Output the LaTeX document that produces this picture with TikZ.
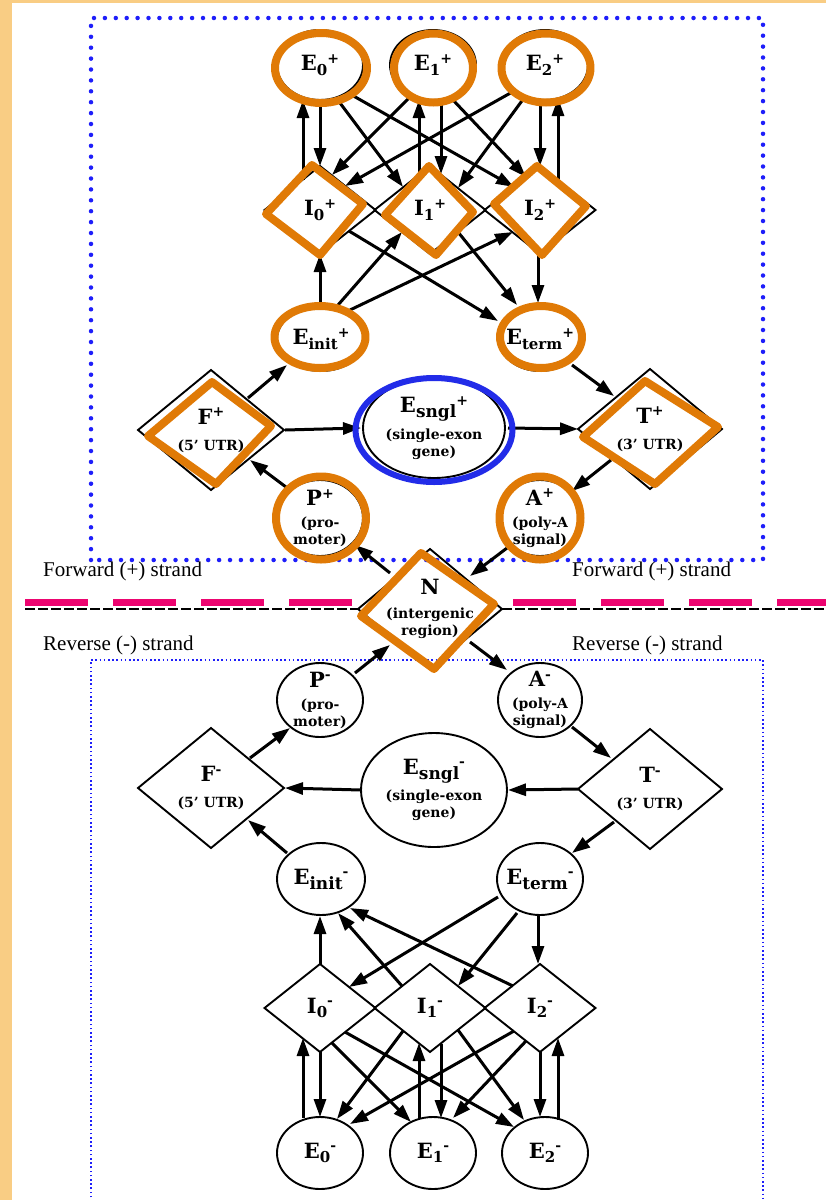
\documentclass[tikz,border=0pt]{standalone}
\usepackage{fontspec}
\setmainfont{DejaVu Serif}
\newfontfamily\strandfont{Liberation Serif}
\usetikzlibrary{shapes.geometric,arrows.meta}

\definecolor{slideback}{RGB}{249,205,132}
\definecolor{hilite}{RGB}{224,122,6}
\definecolor{dotblue}{RGB}{30,30,250}
\definecolor{ringblue}{RGB}{34,44,232}
\definecolor{strandpink}{RGB}{236,4,112}

% label pieces: big letter, lowered index, raised strand sign
\newcommand{\nodemain}{\fontsize{21}{23}\selectfont}
\newcommand{\hsub}[1]{\raisebox{-4.5pt}{\fontsize{15}{15}\selectfont #1}}
\newcommand{\hsubL}[1]{\raisebox{-5pt}{\fontsize{17}{17}\selectfont #1}}
\newcommand{\hsup}[1]{\raisebox{7.5pt}{\fontsize{14}{14}\selectfont #1}}

\begin{document}
\begin{tikzpicture}[x=1pt,y=-1pt,
  lab/.style={align=center,inner sep=0pt,font=\bfseries\fontsize{14}{17}\selectfont},
  ell/.style={ellipse,draw,line width=1.9pt,inner sep=0pt,outer sep=0pt},
  dia/.style={diamond,draw,line width=1.9pt,inner sep=0pt,outer sep=0pt},
  arr/.style={line width=3pt,-{Triangle[length=18pt,width=12pt]}},
  ring/.style={draw=hilite,line width=8pt,line join=round},
  strand/.style={font=\strandfont\fontsize{21}{24}\selectfont,inner sep=0pt}]

\useasboundingbox (0,0) rectangle (826,1200);
\fill[slideback] (0,0) rectangle (826,1200);
\fill[white] (12,3) rectangle (826,1200);

% strand frames
\draw[dotblue,line width=4.5pt,line cap=round,dash pattern=on 0pt off 10.9pt]
  (91,560) -- (91,18) -- (763,18) -- (763,560) -- cycle;
\draw[dotblue,line width=1.3pt,dash pattern=on 1.6pt off 2.6pt]
  (91,1210) -- (91,660) -- (763,660) -- (763,1210);

% strand separator
\draw[black,line width=2pt,dash pattern=on 10pt off 3pt] (25,609) -- (358,609);
\draw[black,line width=2pt,dash pattern=on 10pt off 3pt] (502,609) -- (826,609);
\foreach \x in {25,113,201,289,513,601,689,777}
  \draw[strandpink,line width=7pt] (\x,602) -- ++(63,0);

\node[strand,anchor=base west] (fwdL) at (43,576) {Forward (+) strand};
\node[strand,anchor=base west] (fwdR) at (572,576) {Forward (+) strand};
\node[strand,anchor=base west] (revL) at (43,650) {Reverse (-) strand};
\node[strand,anchor=base west] (revR) at (572,650) {Reverse (-) strand};

% intergenic state (shared by both strands)
\node[dia,minimum width=144pt,minimum height=120pt,alias=pN,
  label={[lab,name=tN]center:{{\nodemain N}\\[7pt](intergenic\\region)}}] (mN) at (430,609) {};

% reverse strand states
\node[ell,minimum width=86pt,minimum height=74pt,
  label={[lab,name=tmP]center:{{\nodemain P\hsup{-}}\\[5pt](pro-\\moter)}}] (mP) at (320,700) {};
\node[ell,minimum width=84pt,minimum height=74pt,
  label={[lab,name=tmA]center:{{\nodemain A\hsup{-}}\\[5pt](poly-A\\signal)}}] (mA) at (540,700) {};
\node[dia,minimum width=146pt,minimum height=120pt,
  label={[lab,name=tmF]center:{{\nodemain F\hsup{-}}\\[9pt](5' UTR)}}] (mF) at (211,788) {};
\node[ell,minimum width=146pt,minimum height=114pt,
  label={[lab,name=tmS]center:{{\nodemain E\hsubL{sngl}\hsup{-}}\\[6pt](single-exon\\gene)}}] (mS) at (434,790) {};
\node[dia,minimum width=144pt,minimum height=120pt,
  label={[lab,name=tmT]center:{{\nodemain T\hsup{-}}\\[9pt](3' UTR)}}] (mT) at (650,789) {};
\node[ell,minimum width=88pt,minimum height=72pt,
  label={[lab,name=tmEi]center:{\nodemain E\hsubL{init}\hsup{-}}}] (mEi) at (321,879) {};
\node[ell,minimum width=86pt,minimum height=72pt,
  label={[lab,name=tmEt]center:{\nodemain E\hsubL{term}\hsup{-}}}] (mEt) at (540,879) {};
\foreach \i/\x in {0/320,1/430,2/540}
  \node[dia,minimum width=111pt,minimum height=88pt,
    label={[lab,name=tmI\i]center:{\nodemain I\hsub{\i}\hsup{-}}}] (mI\i) at (\x,1008) {};
\foreach \i/\x in {0/320,1/433,2/545}
  \node[ell,minimum width=86pt,minimum height=72pt,
    label={[lab,name=tmE\i]center:{\nodemain E\hsub{\i}\hsup{-}}}] (mE\i) at (\x,1153) {};

% forward strand states
\node[ell,minimum width=86pt,minimum height=76pt,
  label={[lab,name=tpP]center:{{\nodemain P\hsup{+}}\\[5pt](pro-\\moter)}}] (pP) at (320,518) {};
\node[ell,minimum width=84pt,minimum height=76pt,
  label={[lab,name=tpA]center:{{\nodemain A\hsup{+}}\\[5pt](poly-A\\signal)}}] (pA) at (540,518) {};
\node[dia,minimum width=146pt,minimum height=120pt,
  label={[lab,name=tpF]center:{{\nodemain F\hsup{+}}\\[9pt](5' UTR)}}] (pF) at (211,430) {};
\node[ell,minimum width=142pt,minimum height=100pt,
  label={[lab,name=tpS]center:{{\nodemain E\hsubL{sngl}\hsup{+}}\\[6pt](single-exon\\gene)}}] (pS) at (434,428) {};
\node[dia,minimum width=144pt,minimum height=120pt,
  label={[lab,name=tpT]center:{{\nodemain T\hsup{+}}\\[9pt](3' UTR)}}] (pT) at (650,429) {};
\node[ell,minimum width=88pt,minimum height=64pt,
  label={[lab,name=tpEi]center:{\nodemain E\hsub{init}\hsup{+}}}] (pEi) at (321,339) {};
\node[ell,minimum width=82pt,minimum height=64pt,
  label={[lab,name=tpEt]center:{\nodemain E\hsub{term}\hsup{+}}}] (pEt) at (540,339) {};
\foreach \i/\x in {0/320,1/430,2/540}
  \node[dia,minimum width=111pt,minimum height=88pt,
    label={[lab,name=tpI\i]center:{\nodemain I\hsub{\i}\hsup{+}}}] (pI\i) at (\x,210) {};
\foreach \i/\x in {0/320,1/433,2/545}
  \node[ell,minimum width=86pt,minimum height=70pt,
    label={[lab,name=tpE\i]center:{\nodemain E\hsub{\i}\hsup{+}}}] (pE\i) at (\x,65) {};

% transitions: each reverse-strand arc and its forward-strand mirror
\foreach \a/\ax/\ay/\b/\bx/\by in {
  N/40/33/A/-33/-30, P/35/-27/N/-40/36, A/32/27/T/-39/-31,
  T/-72/0/S/74/0, S/-73/0/F/74/0, T/-36/33/Et/32/-26,
  F/39/-30/P/-30/28, Ei/-34/-26/F/37/32,
  Et/-42/18/I0/29/-21, Et/-23/34/I1/28/-22, Et/-2/36/I2/-2/-44,
  I0/0/-44/Ei/-1/37, I1/-28/-22/Ei/17/34, I2/-27/-22/Ei/29/29,
  E0/-17/-35/I0/-17/30, I0/0/44/E0/0/-36, I0/12/35/E1/-22/-31,
  I0/25/24/E2/-31/-26, I1/-27/23/E0/17/-34, E1/-14/-35/I1/-11/35,
  I1/11/36/E1/8/-35, I1/28/22/E2/-21/-33, I2/-26/23/E0/30/-29,
  I2/-14/33/E1/20/-35, I2/0/44/E2/-5/-36, E2/13/-33/I2/18/30} {
  \draw[arr] ([shift={(\ax,\ay)}]m\a.center) -- ([shift={(\bx,\by)}]m\b.center);
  \draw[arr] ([shift={(\bx,{-1*(\by)})}]p\b.center) -- ([shift={(\ax,{-1*(\ay)})}]p\a.center);
}

% highlighted forward-strand states
\draw[ring] ([shift={(1,3)}]pE0.center) ellipse [x radius=46,y radius=35];
\draw[ring] ([shift={(0.5,3)}]pE1.center) ellipse [x radius=39.5,y radius=34.5];
\draw[ring] ([shift={(1,3)}]pE2.center) ellipse [x radius=44.5,y radius=34.5];
\draw[ring] ([shift={(-1,-2)}]pEi.center) ellipse [x radius=45.5,y radius=31];
\draw[ring] ([shift={(1,-2)}]pEt.center) ellipse [x radius=41,y radius=31];
\draw[ring] ([shift={(1,0)}]pP.center) ellipse [x radius=45,y radius=41.5];
\draw[ring] ([shift={(0,0)}]pA.center) ellipse [x radius=40.5,y radius=41.5];
\draw[draw=ringblue,line width=6pt] ([shift={(0,2)}]pS.center) ellipse [x radius=78.5,y radius=52];
\begin{scope}[shift={(pI0)}]
  \draw[ring] (-54,4) -- (-8,-45) -- (43,-6) -- (0,45) -- cycle;
\end{scope}
\begin{scope}[shift={(pI1)}]
  \draw[ring] (-45,5) -- (-1,-44) -- (43,2) -- (6,45) -- cycle;
\end{scope}
\begin{scope}[shift={(pI2)}]
  \draw[ring] (-46,-6) -- (-3,-44) -- (46,-4) -- (2,45) -- cycle;
\end{scope}
\begin{scope}[shift={(pF)}]
  \draw[ring] (-63,6) -- (1,-48) -- (60,-4) -- (5,54) -- cycle;
\end{scope}
\begin{scope}[shift={(pT)}]
  \draw[ring] (-67,8) -- (-5,-48) -- (68,-2) -- (5,55) -- cycle;
\end{scope}
\begin{scope}[shift={(mN)}]
  \draw[ring] (-9,-56) -- (64,-5) -- (4,60) -- (-69,7) -- cycle;
\end{scope}
\end{tikzpicture}
\end{document}
